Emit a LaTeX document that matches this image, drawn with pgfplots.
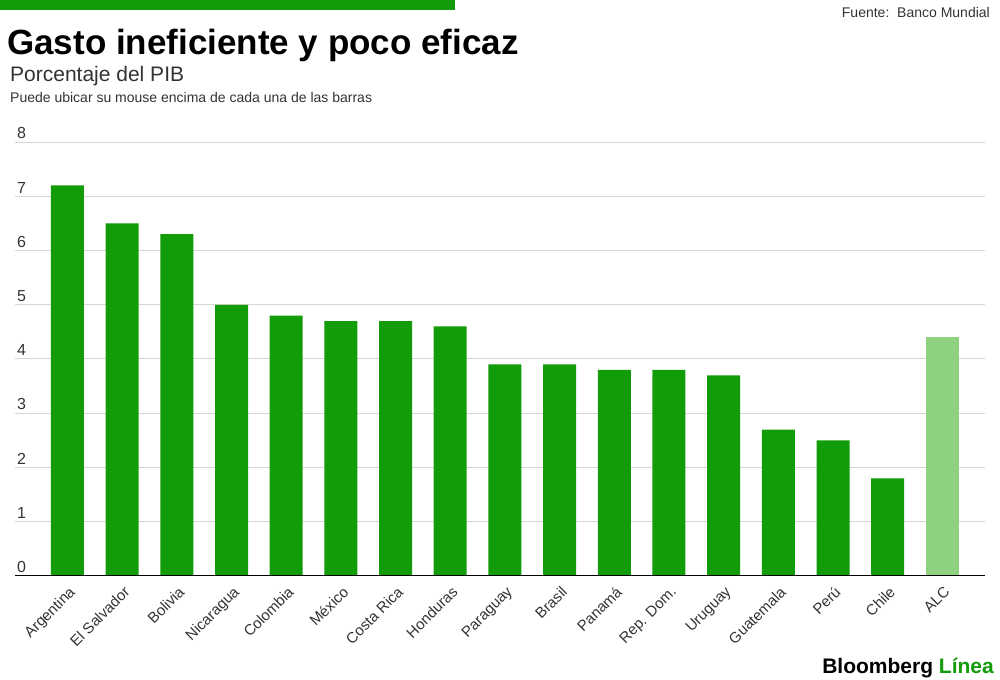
\documentclass[border=0pt]{standalone}
\usepackage{pgfplots}
\pgfplotsset{compat=1.18}
\usepackage{fontspec}
\setmainfont{Liberation Sans}
\definecolor{bgreen}{HTML}{129C0A}
\definecolor{lgreen}{HTML}{8ED17F}
\definecolor{gridc}{HTML}{D6D6D6}
\definecolor{txt}{HTML}{333333}
\begin{document}
\begin{tikzpicture}
\path[use as bounding box] (0bp,0bp) rectangle (1000bp,680bp);
\fill[bgreen] (0bp,670bp) rectangle (455bp,680bp);
\node[anchor=base west, inner sep=0, text=black, font=\fontsize{35bp}{40bp}\selectfont\bfseries] at (7bp,625bp) {Gasto ineficiente y poco eficaz};
\node[anchor=base west, inner sep=0, text=txt, font=\fontsize{21bp}{24bp}\selectfont] at (10bp,598bp) {Porcentaje del PIB};
\node[anchor=base west, inner sep=0, text=txt, font=\fontsize{14bp}{16bp}\selectfont] at (10bp,577bp) {Puede ubicar su mouse encima de cada una de las barras};
\node[anchor=base east, inner sep=0, text=txt, font=\fontsize{14bp}{16bp}\selectfont] at (990bp,662bp) {Fuente:\ \ Banco Mundial};
\node[anchor=base east, inner sep=0, text=black, font=\fontsize{21bp}{24bp}\selectfont\bfseries] at (994bp,7bp) {Bloomberg \textcolor{bgreen}{Línea}};
\begin{axis}[
  at={(15bp,104bp)}, anchor=south west,
  scale only axis, width=970bp, height=434bp,
  xmin=-0.96, xmax=16.78, ymin=0, ymax=8,
  ybar, bar width=33bp, bar shift=0pt,
  axis line style={draw=none}, tick style={draw=none},
  ytick={0,1,...,8}, ymajorgrids, grid style={gridc, line width=1bp},
  /pgf/number format/assume math mode=true,
  yticklabel style={anchor=south west, inner sep=0pt, xshift=2bp, yshift=3bp, text=txt, font=\fontsize{16bp}{16bp}\selectfont},
  xtick={0,1,...,16},
  xticklabels={Argentina, El Salvador, Bolivia, Nicaragua, Colombia, México, Costa Rica, Honduras, Paraguay, Brasil, Panamá, Rep. Dom., Uruguay, Guatemala, Perú, Chile, ALC},
  xticklabel style={rotate=45, anchor=north east, inner sep=0pt, xshift=-3bp, yshift=-4bp, text=txt, font=\fontsize{15bp}{15bp}\selectfont},
]
\addplot[fill=bgreen, draw=none] coordinates {(0,7.2) (1,6.5) (2,6.3) (3,5.0) (4,4.8) (5,4.7) (6,4.7) (7,4.6) (8,3.9) (9,3.9) (10,3.8) (11,3.8) (12,3.7) (13,2.7) (14,2.5) (15,1.8)};
\addplot[fill=lgreen, draw=none] coordinates {(16,4.4)};
\draw[black, line width=2bp] (axis cs:-0.96,0) -- (axis cs:16.78,0);
\end{axis}
\end{tikzpicture}
\end{document}
